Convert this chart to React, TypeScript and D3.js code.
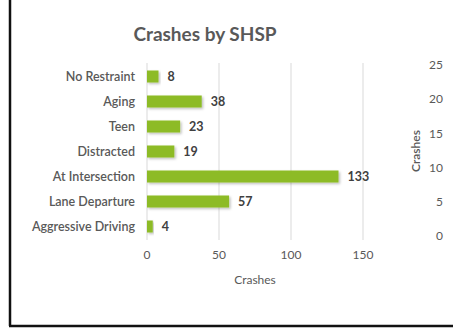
import React from "react";
import * as d3 from "d3";

const categories = ["No Restraint", "Aging", "Teen", "Distracted", "At Intersection", "Lane Departure", "Aggressive Driving"];
const values = [8, 38, 23, 19, 133, 57, 4];
const xTicks = [0, 50, 100, 150];
const rightTicks = [0, 5, 10, 15, 20, 25];

const W = 453;
const H = 328;
const FONT = "Lato, 'Open Sans', sans-serif";

export default function App() {
  const x = d3.scaleLinear().domain([0, 150]).range([147, 363]);
  const y = d3.scaleBand<string>().domain(categories).range([64, 239]).paddingInner(0.52).paddingOuter(0.26);
  const yR = d3.scaleLinear().domain([0, 25]).range([236, 65]);

  return (
    <svg width={W} height={H} style={{ position: "absolute", left: 0, top: 0, background: "#fff" }}>
      <defs>
        <filter id="sh" x="-10%" y="-30%" width="130%" height="180%">
          <feDropShadow dx="1.5" dy="1.5" stdDeviation="1" floodColor="#000" floodOpacity="0.25" />
        </filter>
      </defs>
      <rect x={0} y={0} width={W} height={H} fill="#fff" />
      <line x1={10} y1={0} x2={10} y2={326} stroke="#111" strokeWidth={2.5} />
      <line x1={9} y1={326} x2={W} y2={326} stroke="#111" strokeWidth={2.5} />

      <text x={205} y={41} textAnchor="middle" fontFamily={FONT} fontSize={19} fontWeight={700} fill="#595959">
        Crashes by SHSP
      </text>

      {xTicks.map((t) => (
        <line key={"g" + t} x1={x(t)} x2={x(t)} y1={63} y2={240} stroke="#d9d9d9" strokeWidth={1} />
      ))}
      {xTicks.map((t) => (
        <text key={"t" + t} x={x(t)} y={259} textAnchor="middle" fontFamily={FONT} fontSize={12} fill="#595959">
          {t}
        </text>
      ))}
      <text x={255} y={284} textAnchor="middle" fontFamily={FONT} fontSize={12} fill="#595959">
        Crashes
      </text>

      {categories.map((c, i) => {
        const yy = y(c)!;
        const bw = y.bandwidth();
        return (
          <g key={c}>
            <rect x={x(0)} y={yy} width={x(values[i]) - x(0)} height={bw} fill="#8dbb27" filter="url(#sh)" />
            <text x={135} y={yy + bw / 2} dy="0.35em" textAnchor="end" fontFamily={FONT} fontSize={12.5} fontWeight={600} fill="#595959">
              {c}
            </text>
            <text x={x(values[i]) + 9} y={yy + bw / 2} dy="0.35em" fontFamily={FONT} fontSize={12.5} fontWeight={700} fill="#404040">
              {values[i]}
            </text>
          </g>
        );
      })}

      {rightTicks.map((t) => (
        <text key={"r" + t} x={443} y={yR(t)} dy="0.35em" textAnchor="end" fontFamily={FONT} fontSize={12} fill="#595959">
          {t}
        </text>
      ))}
      <text transform="translate(420,151) rotate(-90)" textAnchor="middle" fontFamily={FONT} fontSize={12} fontWeight={600} fill="#595959">
        Crashes
      </text>
    </svg>
  );
}
